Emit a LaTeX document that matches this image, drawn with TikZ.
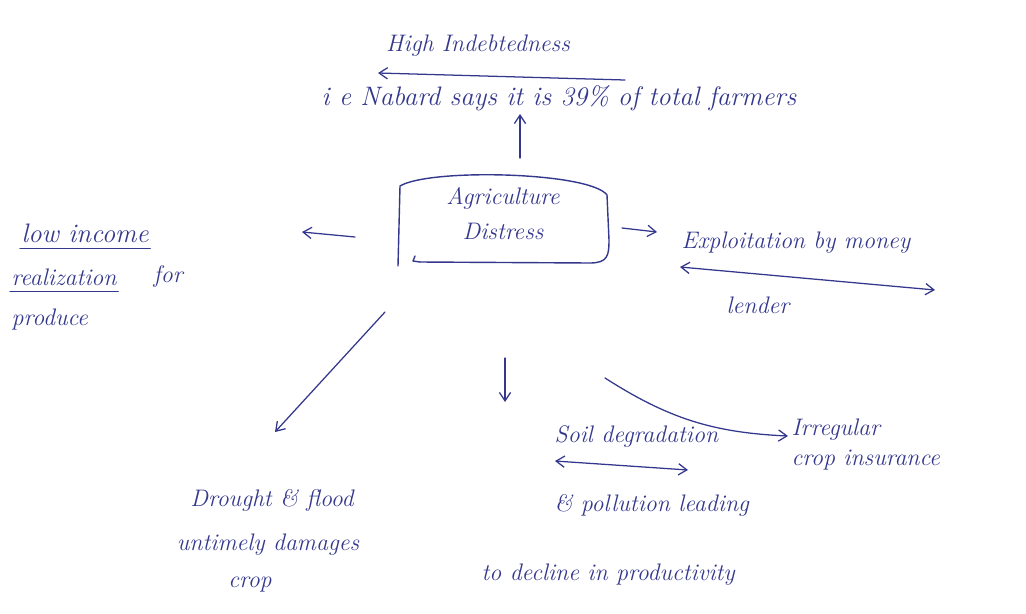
\documentclass[tikz,border=0pt]{standalone}
\usepackage{tikz}
\usetikzlibrary{arrows.meta,positioning}
\definecolor{ink}{RGB}{52,56,140}
\tikzset{note/.style={anchor=west,inner sep=1pt,text=ink},
  uline/.style={draw=ink,line width=0.9pt}}

\begin{document}
\begin{tikzpicture}[x=0.025cm,y=-0.025cm,>={Straight Barb[length=6pt,width=8pt]},line cap=round,line join=round,
  font=\fontsize{17}{20}\selectfont\itshape]
\useasboundingbox (0,0) rectangle (1026,613);
% --- centre: the distress box, drawn by hand round its node
\node[minimum width=5.4cm,minimum height=2.25cm,align=center,text=ink,font=\fontsize{17}{25}\selectfont\itshape]
  (distress) at (503,214) {Agriculture\\Distress};
\draw[uline,line width=1pt] (420,262) -- (590,263) .. controls (608,263) and (609,255) .. (609,240)
  -- (607,195) .. controls (590,172) and (430,168) .. (400,186) -- (398,266);
\draw[uline,line width=1pt] (420,262) -- (413,261) -- (415,256);
% --- top: indebtedness
\node[note,anchor=center] (high) at (478,46) {High Indebtedness};
\node[note,font=\fontsize{19}{22}\selectfont\itshape] (nabard) at (320,98) {i e Nabard says it is 39\% of total farmers};
\coordinate (highR) at (625,80); \coordinate (highL) at (378,73);
\draw[uline,->] (highR) -- (highL);
\coordinate (upA) at (520,158); \coordinate (upB) at (520,114);
\draw[uline,->] (upA) -- (upB);
% --- left: income
\node[note,font=\fontsize{19}{22}\selectfont\itshape] (lowinc) at (20,233) {low income};
\node[note] (realiz) at (10,277) {realization};
\node[note,right=24pt of realiz] (for) {for};
\node[note] (produce) at (10,320) {produce};
\draw[uline] ([yshift=-3pt]lowinc.south west) -- ([yshift=-3pt]lowinc.south east);
\draw[uline] ([yshift=-3pt]realiz.south west) -- ([yshift=-3pt]realiz.south east);
\coordinate (leftA) at (355,237); \coordinate (leftB) at (302,232);
\draw[uline,->] (leftA) -- (leftB);
% --- right: money lender
\node[note] (exploit) at (680,243) {Exploitation by money};
\node[note] (lender) at (725,305) {lender};
\coordinate (expL) at (680,267); \coordinate (expR) at (935,290);
\draw[uline,<->] (expL) -- (expR);
\coordinate (rightA) at (622,228); \coordinate (rightB) at (657,232);
\draw[uline,->] (rightA) -- (rightB);
% --- bottom left: drought
\node[note,anchor=center] (drought) at (272,500) {Drought \& flood};
\node[note,anchor=center] (untimely) at (268,545) {untimely damages};
\node[note,anchor=center] (crop) at (250,585) {crop};
\coordinate (dlA) at (385,312); \coordinate (dlB) at (275,432);
\draw[uline,->] (dlA) -- (dlB);
% --- bottom: soil
\node[note] (soil) at (553,437) {Soil degradation};
\node[note] (pollution) at (553,505) {\& pollution leading};
\node[note] (decline) at (480,575) {to decline in productivity};
\coordinate (soilL) at (555,461); \coordinate (soilR) at (688,470);
\draw[uline,<->] (soilL) -- (soilR);
\coordinate (downA) at (505,358); \coordinate (downB) at (505,402);
\draw[uline,->] (downA) -- (downB);
% --- bottom right: insurance
\node[note] (irregular) at (790,430) {Irregular};
\node[note] (insurance) at (790,460) {crop insurance};
\coordinate (crA) at (605,378); \coordinate (crB) at (788,436);
\draw[uline,->] (crA) to[bend right=15] (crB);
\end{tikzpicture}
\end{document}
